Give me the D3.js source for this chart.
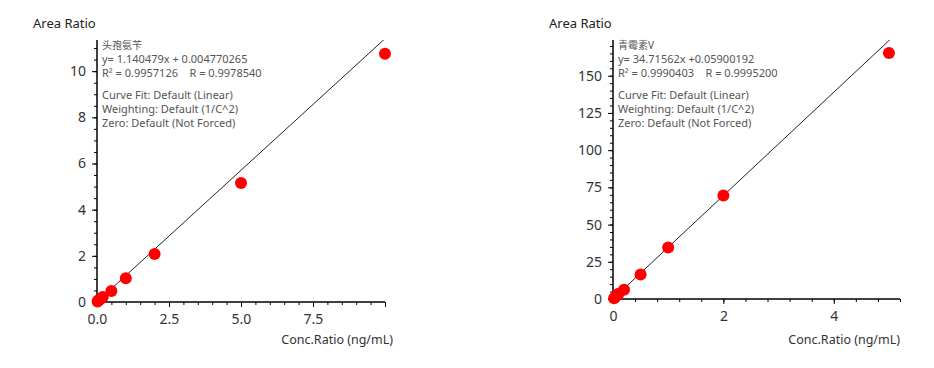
<!DOCTYPE html>
<html>
<head>
<meta charset="utf-8">
<script src="https://cdn.jsdelivr.net/npm/d3@7"></script>
<style>
  body { margin: 0; background: #fff; }
  svg text { font-family: "Noto Sans", "Noto Sans CJK SC", sans-serif; white-space: pre; }
</style>
</head>
<body>
<div class="chart"></div>
<script>
/* data */
var cephX = [0.02, 0.05, 0.1, 0.2, 0.5, 1, 2, 5, 10];
var cephY = [0.02, 0.06, 0.11, 0.22, 0.48, 1.03, 2.08, 5.16, 10.75];
var cephFit = [1.140479, 0.004770265];
var cephText = ["头孢氨苄", "y= 1.140479x + 0.004770265", "R\u00B2 = 0.9957126    R = 0.9978540"];

var penX = [0.02, 0.05, 0.1, 0.2, 0.5, 1, 2, 5];
var penY = [0.5, 1.7, 3.5, 6.2, 16.5, 34.6, 69.6, 165.3];
var penFit = [34.71562, 0.05900192];
var penText = ["青霉素V", "y= 34.71562x +0.05900192", "R\u00B2 = 0.9990403    R = 0.9995200"];

var fitInfo = ["Curve Fit: Default (Linear)", "Weighting: Default (1/C^2)", "Zero: Default (Not Forced)"];

var svg = d3.select(".chart")
  .append("svg")
    .attr("width", 934)
    .attr("height", 368);

/* one calibration panel */
function panel(cfg) {
  var g = svg.append("g");

  var x = d3.scaleLinear().domain(cfg.xDomain).range([cfg.left, cfg.right]);
  var y = d3.scaleLinear().domain(cfg.yDomain).range([cfg.bottom, cfg.top]);

  var clipId = "clip" + cfg.id;
  g.append("clipPath").attr("id", clipId)
    .append("rect")
      .attr("x", cfg.left - 20).attr("y", cfg.top)
      .attr("width", cfg.right - cfg.left + 40)
      .attr("height", cfg.bottom - cfg.top + 30);

  // minor ticks
  g.append("g")
    .attr("transform", "translate(" + cfg.left + ",0)")
    .call(d3.axisLeft(y).tickValues(cfg.yMinor).tickSize(3).tickFormat(""))
    .call(function(s){ s.select(".domain").remove(); });
  g.append("g")
    .attr("transform", "translate(0," + cfg.bottom + ")")
    .call(d3.axisBottom(x).tickValues(cfg.xMinor).tickSize(3).tickFormat(""))
    .call(function(s){ s.select(".domain").remove(); });

  // major ticks
  var ya = g.append("g")
    .attr("transform", "translate(" + cfg.left + ",0)")
    .call(d3.axisLeft(y).tickValues(cfg.yMajor).tickSize(5).tickPadding(6).tickFormat(d3.format(cfg.yFmt)));
  ya.select(".domain").remove();
  ya.selectAll("text").attr("font-size", 14).attr("fill", "#333");

  var xa = g.append("g")
    .attr("transform", "translate(0," + cfg.bottom + ")")
    .call(d3.axisBottom(x).tickValues(cfg.xMajor).tickSize(5).tickPadding(7)
      .tickFormat(function(d){ return cfg.xLabels.indexOf(d) >= 0 ? d3.format(cfg.xFmt)(d) : ""; }));
  xa.select(".domain").remove();
  xa.selectAll("text").attr("font-size", 14).attr("fill", "#333");

  // axis lines
  g.append("line")
    .attr("x1", cfg.left).attr("x2", cfg.left)
    .attr("y1", cfg.top).attr("y2", cfg.bottom)
    .attr("stroke", "#000").attr("stroke-width", 1.5);
  g.append("line")
    .attr("x1", cfg.left).attr("x2", cfg.right)
    .attr("y1", cfg.bottom).attr("y2", cfg.bottom)
    .attr("stroke", "#000").attr("stroke-width", 1.5);

  // regression line
  var xs = [0, cfg.xDomain[1]];
  g.append("path")
    .datum(xs)
    .attr("clip-path", "url(#" + clipId + ")")
    .attr("fill", "none")
    .attr("stroke", "#222")
    .attr("stroke-width", 1)
    .attr("d", d3.line()
      .x(function(d){ return x(d); })
      .y(function(d){ return y(cfg.fit[0] * d + cfg.fit[1]); }));

  // points
  g.selectAll("circle.pt")
    .data(cfg.xs)
    .enter().append("circle")
      .attr("class", "pt")
      .attr("cx", function(d){ return x(d); })
      .attr("cy", function(d, i){ return y(cfg.ys[i]); })
      .attr("r", 6)
      .attr("fill", "#f00");

  // titles
  g.append("text")
    .attr("x", cfg.left - 64).attr("y", 28)
    .attr("font-size", 13).attr("fill", "#222")
    .text("Area Ratio");
  g.append("text")
    .attr("x", cfg.labelEnd).attr("y", 344)
    .attr("text-anchor", "end")
    .attr("font-size", 12.5).attr("fill", "#333")
    .text("Conc.Ratio (ng/mL)");

  // equation block
  var lines = cfg.info.concat(fitInfo);
  var base = [49, 63, 77, 99, 113, 127];
  g.selectAll("text.info")
    .data(lines)
    .enter().append("text")
      .attr("class", "info")
      .attr("x", cfg.left + 5)
      .attr("y", function(d, i){ return base[i]; })
      .attr("font-size", function(d, i){ return i == 0 ? 10 : 11; })
      .attr("fill", "#555")
      .attr("xml:space", "preserve")
      .text(function(d){ return d; });
}

panel({
  id: 1, left: 97, right: 385, top: 40, bottom: 302, labelEnd: 393,
  xDomain: [0, 10], yDomain: [0, 11.35],
  xs: cephX, ys: cephY, fit: cephFit, info: cephText,
  yMajor: [0, 2, 4, 6, 8, 10], yMinor: d3.range(0, 11.3, 0.5), yFmt: "d",
  xMajor: [0, 2.5, 5, 7.5, 10], xLabels: [0, 2.5, 5, 7.5], xMinor: d3.range(0, 10.01, 0.5), xFmt: ".1f"
});

panel({
  id: 2, left: 613, right: 900, top: 40, bottom: 299, labelEnd: 900,
  xDomain: [0, 5.2], yDomain: [0, 174],
  xs: penX, ys: penY, fit: penFit, info: penText,
  yMajor: [0, 25, 50, 75, 100, 125, 150], yMinor: d3.range(0, 174, 5), yFmt: "d",
  xMajor: [0, 2, 4], xLabels: [0, 2, 4], xMinor: d3.range(0, 5.21, 0.4), xFmt: "d"
});
</script>
</body>
</html>
